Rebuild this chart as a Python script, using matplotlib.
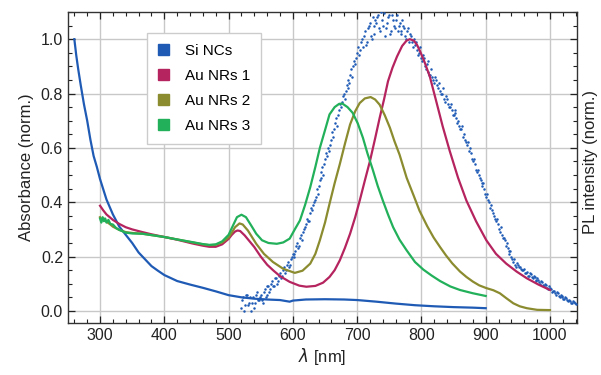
import numpy as np
import matplotlib
matplotlib.use("Agg")
import matplotlib.pyplot as plt
from matplotlib.ticker import MultipleLocator
from matplotlib.patches import Patch

plt.rcParams['font.family'] = ['Liberation Sans', 'DejaVu Sans']

# ---------------- data ----------------
si_wl = [260, 263, 266, 270, 275, 280, 285, 290, 295, 300, 310, 320, 330, 340, 350,
         360, 370, 380, 390, 400, 420, 440, 460, 480, 500, 520, 540, 560, 580, 590,
         595, 600, 620, 650, 680, 700, 730, 760, 790, 820, 850, 880, 900]
si_abs = [1.0, 0.94, 0.89, 0.83, 0.76, 0.70, 0.63, 0.57, 0.53, 0.485, 0.41, 0.355, 0.31,
          0.28, 0.25, 0.215, 0.19, 0.165, 0.148, 0.132, 0.11, 0.097, 0.085, 0.072, 0.058,
          0.05, 0.045, 0.042, 0.04, 0.036, 0.034, 0.038, 0.042, 0.043, 0.042, 0.04,
          0.034, 0.027, 0.021, 0.017, 0.014, 0.012, 0.01]

au1_wl = [300, 305, 310, 320, 330, 340, 350, 366, 380, 400, 420, 444, 460, 470, 480, 490,
          500, 505, 510, 514, 518, 525, 532, 540, 550, 560, 570, 580, 595, 610, 621, 635,
          647, 657, 665, 673, 681, 689, 697, 704, 712, 720, 728, 735, 742, 748, 755, 762,
          770, 777, 782, 788, 793, 798, 805, 813, 823, 833, 844, 857, 870, 885, 901, 916,
          932, 948, 964, 982, 1000]
au1_abs = [0.387, 0.37, 0.355, 0.335, 0.32, 0.308, 0.30, 0.29, 0.282, 0.272, 0.262, 0.248,
           0.24, 0.236, 0.236, 0.245, 0.265, 0.28, 0.292, 0.296, 0.294, 0.278, 0.258, 0.235,
           0.20, 0.17, 0.148, 0.128, 0.107, 0.093, 0.089, 0.092, 0.104, 0.125, 0.15, 0.186,
           0.232, 0.284, 0.345, 0.406, 0.48, 0.552, 0.635, 0.71, 0.78, 0.845, 0.895, 0.936,
           0.975, 0.995, 1.0, 0.995, 0.98, 0.955, 0.915, 0.863, 0.772, 0.68, 0.589, 0.49,
           0.406, 0.33, 0.26, 0.21, 0.174, 0.145, 0.12, 0.097, 0.077]

au2_wl = [300, 303, 306, 309, 312, 316, 320, 330, 340, 350, 366, 380, 400, 420, 444, 460,
          470, 480, 490, 500, 505, 510, 517, 522, 530, 543, 555, 569, 585, 603, 615, 627,
          635, 642, 650, 657, 665, 673, 681, 689, 697, 704, 712, 721, 728, 735, 743, 751,
          758, 766, 777, 788, 797, 809, 819, 829, 838, 848, 860, 870, 880, 890, 901, 912,
          922, 932, 943, 953, 964, 980, 1000]
au2_abs = [0.345, 0.335, 0.34, 0.33, 0.325, 0.318, 0.31, 0.298, 0.29, 0.287, 0.284, 0.279,
           0.272, 0.263, 0.252, 0.245, 0.242, 0.243, 0.252, 0.27, 0.288, 0.308, 0.322,
           0.318, 0.296, 0.247, 0.21, 0.18, 0.155, 0.14, 0.148, 0.174, 0.21, 0.26, 0.325,
           0.394, 0.47, 0.54, 0.615, 0.686, 0.735, 0.765, 0.782, 0.787, 0.778, 0.759, 0.72,
           0.674, 0.625, 0.575, 0.49, 0.424, 0.369, 0.312, 0.27, 0.235, 0.205, 0.175, 0.145,
           0.125, 0.108, 0.094, 0.084, 0.076, 0.065, 0.047, 0.028, 0.017, 0.01, 0.004, 0.003]

au3_wl = [300, 302, 304, 306, 308, 310, 313, 316, 320, 325, 330, 340, 350, 366, 380, 400,
          420, 444, 460, 470, 480, 490, 500, 507, 513, 520, 527, 535, 543, 552, 562, 575,
          585, 595, 603, 611, 619, 627, 635, 642, 650, 657, 665, 672, 677, 685, 693, 701,
          709, 716, 724, 732, 740, 748, 756, 766, 777, 790, 803, 816, 829, 845, 860, 880,
          900]
au3_abs = [0.34, 0.325, 0.345, 0.33, 0.34, 0.325, 0.335, 0.32, 0.318, 0.305, 0.298, 0.288,
           0.285, 0.284, 0.279, 0.272, 0.263, 0.253, 0.246, 0.243, 0.245, 0.256, 0.28, 0.315,
           0.345, 0.354, 0.345, 0.315, 0.284, 0.26, 0.25, 0.247, 0.252, 0.266, 0.30, 0.333,
           0.39, 0.455, 0.53, 0.60, 0.665, 0.723, 0.75, 0.762, 0.763, 0.75, 0.729, 0.69,
           0.637, 0.58, 0.522, 0.46, 0.406, 0.355, 0.308, 0.262, 0.223, 0.18, 0.152, 0.13,
           0.11, 0.09, 0.077, 0.065, 0.055]

# PL intensity of Si NCs, two interleaved sampling sets
pl_wl = np.arange(520, 1040, 3)
pl_int = [0.01, 0.05, 0.02, 0.06, 0.03, 0.00, 0.05, 0.03, 0.07, 0.04,
          0.06, 0.03, 0.08, 0.06, 0.09, 0.08, 0.11, 0.09, 0.12, 0.11,
          0.14, 0.13, 0.16, 0.15, 0.18, 0.17, 0.20, 0.21, 0.22, 0.25,
          0.24, 0.28, 0.29, 0.31, 0.34, 0.33, 0.38, 0.39, 0.41, 0.45,
          0.46, 0.49, 0.53, 0.54, 0.58, 0.60, 0.61, 0.66, 0.67, 0.71,
          0.72, 0.76, 0.77, 0.80, 0.81, 0.85, 0.84, 0.89, 0.90, 0.91,
          0.95, 0.94, 0.99, 0.97, 1.03, 0.99, 1.05, 1.01, 1.08, 1.02,
          1.06, 1.09, 1.03, 1.07, 1.095, 1.04, 1.08, 1.02, 1.09, 1.05,
          1.07, 1.03, 1.06, 1.02, 1.05, 1.01, 1.03, 0.99, 1.01, 0.97,
          0.98, 0.96, 0.95, 0.93, 0.94, 0.90, 0.91, 0.88, 0.87, 0.86,
          0.84, 0.85, 0.82, 0.81, 0.80, 0.78, 0.79, 0.76, 0.75, 0.74,
          0.72, 0.73, 0.69, 0.68, 0.67, 0.64, 0.63, 0.61, 0.59, 0.58,
          0.55, 0.54, 0.51, 0.50, 0.48, 0.46, 0.45, 0.42, 0.41, 0.38,
          0.37, 0.35, 0.33, 0.32, 0.29, 0.28, 0.27, 0.24, 0.23, 0.21,
          0.20, 0.18, 0.17, 0.175, 0.16, 0.155, 0.15, 0.14, 0.145, 0.13,
          0.135, 0.12, 0.125, 0.11, 0.115, 0.10, 0.105, 0.09, 0.095, 0.08,
          0.085, 0.07, 0.075, 0.06, 0.065, 0.05, 0.055, 0.045, 0.05, 0.04,
          0.042, 0.03, 0.035, 0.028]
pl_wl2 = np.arange(521.5, 1041, 3)
pl_int2 = [0.04, 0.00, 0.06, 0.02, 0.05, 0.03, 0.01, 0.06, 0.04, 0.05,
           0.04, 0.07, 0.05, 0.09, 0.07, 0.10, 0.09, 0.12, 0.10, 0.13,
           0.12, 0.15, 0.14, 0.17, 0.16, 0.19, 0.21, 0.20, 0.24, 0.23,
           0.27, 0.26, 0.30, 0.32, 0.33, 0.36, 0.37, 0.40, 0.42, 0.43,
           0.48, 0.51, 0.50, 0.56, 0.57, 0.59, 0.63, 0.64, 0.69, 0.68,
           0.74, 0.75, 0.79, 0.78, 0.83, 0.82, 0.87, 0.86, 0.92, 0.93,
           0.97, 0.96, 1.00, 1.01, 0.98, 1.04, 1.06, 1.00, 1.05, 1.07,
           1.08, 1.04, 1.10, 1.05, 1.01, 1.06, 1.09, 1.03, 1.07, 1.04,
           1.09, 1.05, 1.03, 1.07, 1.04, 1.00, 1.04, 1.02, 0.99, 1.00,
           0.99, 0.94, 0.97, 0.92, 0.93, 0.89, 0.92, 0.87, 0.89, 0.85,
           0.86, 0.83, 0.84, 0.80, 0.82, 0.77, 0.78, 0.75, 0.76, 0.72,
           0.74, 0.71, 0.70, 0.67, 0.68, 0.65, 0.62, 0.62, 0.60, 0.56,
           0.56, 0.52, 0.52, 0.49, 0.47, 0.47, 0.43, 0.43, 0.40, 0.39,
           0.36, 0.34, 0.34, 0.30, 0.31, 0.27, 0.26, 0.25, 0.22, 0.22,
           0.19, 0.19, 0.16, 0.17, 0.16, 0.15, 0.155, 0.14, 0.13, 0.14,
           0.125, 0.13, 0.115, 0.12, 0.105, 0.11, 0.095, 0.10, 0.085, 0.09,
           0.08, 0.075, 0.065, 0.07, 0.055, 0.06, 0.05, 0.045, 0.048, 0.038,
           0.036, 0.03, 0.032, 0.025]

labels = ["Si NCs", "Au NRs 1", "Au NRs 2", "Au NRs 3"]
colors = ["#1f5bb5", "#b5245e", "#8b8b30", "#22b05a"]

# ---------------- figure ----------------
fig = plt.figure(figsize=(6.01, 3.75), dpi=100)
ax = fig.add_axes([0.113, 0.139, 0.847, 0.829])

for wl, val in ((pl_wl, pl_int), (pl_wl2, pl_int2)):
    ax.plot(wl, val, linestyle="none", marker="o", ms=1.8, mew=0,
            color=colors[0], zorder=3)
ax.plot(si_wl, si_abs, color=colors[0], lw=1.6, zorder=4)
ax.plot(au1_wl, au1_abs, color=colors[1], lw=1.6, zorder=4)
ax.plot(au2_wl, au2_abs, color=colors[2], lw=1.6, zorder=4)
ax.plot(au3_wl, au3_abs, color=colors[3], lw=1.6, zorder=4)

ax.set_xlim(250, 1042)
ax.set_ylim(-0.044, 1.1)
ax.xaxis.set_major_locator(MultipleLocator(100))
ax.xaxis.set_minor_locator(MultipleLocator(20))
ax.yaxis.set_major_locator(MultipleLocator(0.2))
ax.yaxis.set_minor_locator(MultipleLocator(0.05))
ax.set_xticks([300, 400, 500, 600, 700, 800, 900, 1000])
ax.set_yticks([0.0, 0.2, 0.4, 0.6, 0.8, 1.0])
ax.set_yticklabels(["0.0", "0.2", "0.4", "0.6", "0.8", "1.0"])
ax.tick_params(which="both", direction="in", top=True, right=True,
               labelsize=11.5, colors="#222222")
ax.tick_params(which="major", length=5, width=0.9)
ax.tick_params(which="minor", length=3, width=0.8)
ax.grid(True, which="major", color="#c8c8c8", lw=1.0, zorder=0)
for s in ax.spines.values():
    s.set_color("#333333")
    s.set_linewidth(1.0)

ax.set_xlabel(r"$\lambda$ [nm]", fontsize=12, color="#222222", labelpad=2)
ax.set_ylabel("Absorbance (norm.)", fontsize=12, color="#222222", labelpad=5)
fig.text(0.983, 0.567, "PL intensity (norm.)", rotation=90, fontsize=12,
         color="#222222", ha="center", va="center")

handles = [Patch(facecolor=c, edgecolor=c) for c in colors]
leg = ax.legend(handles, labels, loc="upper left", bbox_to_anchor=(0.155, 0.932),
                fontsize=11, frameon=True, fancybox=False, handlelength=0.75,
                handleheight=0.75, handletextpad=1.0, labelspacing=0.72,
                borderpad=0.72, borderaxespad=0)
leg.get_frame().set_edgecolor("#cccccc")
leg.get_frame().set_linewidth(1.0)
leg.get_frame().set_alpha(1.0)
leg.set_zorder(5)

fig.savefig("out.png", dpi=100)
